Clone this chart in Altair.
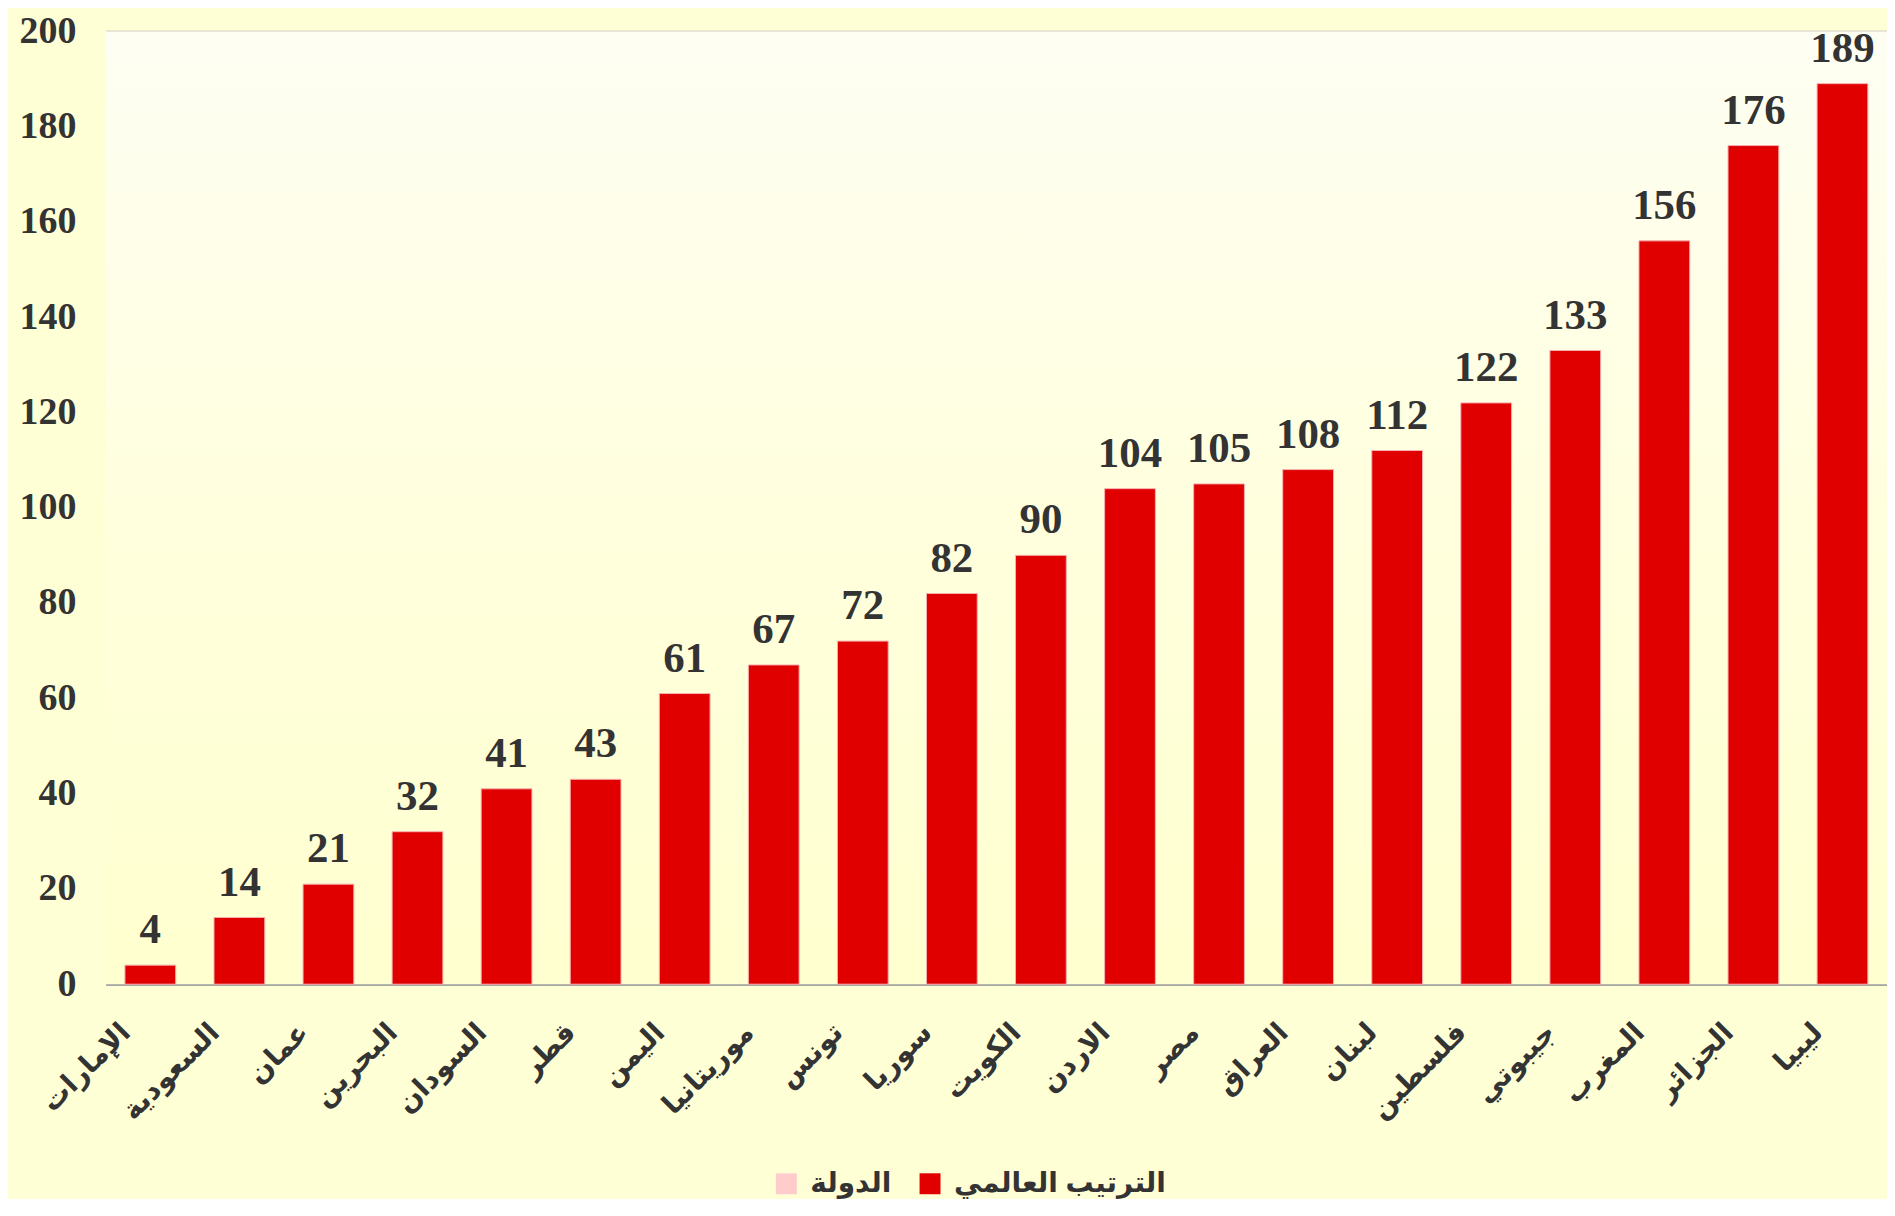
import altair as alt
import pandas as pd

countries = ["الإمارات", "السعودية", "عمان", "البحرين", "السودان", "قطر", "اليمن",
             "موريتانيا", "تونس", "سوريا", "الكويت", "الاردن", "مصر", "العراق",
             "لبنان", "فلسطين", "جيبوتي", "المغرب", "الجزائر", "ليبيا"]
ranks = [4, 14, 21, 32, 41, 43, 61, 67, 72, 82, 90, 104, 105, 108, 112, 122, 133, 156, 176, 189]
series_names = ["الدولة", "الترتيب العالمي"]
series_colors = ["#FFCCCC", "#E00000"]
y_ticks = [0, 20, 40, 60, 80, 100, 120, 140, 160, 180, 200]
y_domain = [0, 200]

df = pd.DataFrame({"country": countries, "rank": ranks, "series": series_names[1]})
bg_df = pd.DataFrame({"top": [y_domain[1]], "bottom": [y_domain[0]]})

x_enc = alt.X("country:N", sort=countries, title=None,
              scale=alt.Scale(paddingInner=0.43, paddingOuter=0.215),
              axis=alt.Axis(labelAngle=-45, labelAlign="right", labelBaseline="top",
                            labelFont="Liberation Serif, DejaVu Sans", labelFontWeight="bold",
                            labelFontSize=28, labelColor="#333333", labelPadding=34,
                            labelOffset=-34, ticks=False, domain=True,
                            domainColor="#A0A0A0", domainWidth=2, grid=False))
y_enc = alt.Y("rank:Q", title=None,
              scale=alt.Scale(domain=y_domain, nice=False),
              axis=alt.Axis(values=y_ticks, labelFont="Liberation Serif", labelFontWeight="bold",
                            labelFontSize=38, labelColor="#333333", labelPadding=30,
                            ticks=False, domain=False, grid=True,
                            gridColor="#A0A0A0", gridWidth=2))

grad = alt.LinearGradient(
    gradient="linear", x1=0, x2=0, y1=0, y2=1,
    stops=[alt.GradientStop(color="#FEFEF3", offset=0),
           alt.GradientStop(color="#FFFFDE", offset=0.5),
           alt.GradientStop(color="#FFFFCF", offset=1)])

background = alt.Chart(bg_df).mark_rect(fill=grad, strokeWidth=0).encode(
    y=alt.Y("top:Q", scale=alt.Scale(domain=y_domain, nice=False), title=None),
    y2=alt.Y2("bottom:Q"),
)

bars = alt.Chart(df).mark_bar(stroke="#F6B0B0", strokeWidth=1).encode(
    x=x_enc,
    y=y_enc,
    color=alt.Color("series:N",
                    scale=alt.Scale(domain=series_names, range=series_colors),
                    legend=alt.Legend(orient="none", legendX=668, legendY=1141,
                                      direction="horizontal", title=None,
                                      symbolType="square", symbolSize=441,
                                      symbolStrokeWidth=0,
                                      labelFont="Liberation Sans, DejaVu Sans",
                                      labelFontWeight="bold", labelFontSize=28,
                                      labelColor="#333333", columnPadding=24,
                                      labelOffset=10, labelLimit=400)),
)

labels = alt.Chart(df).mark_text(baseline="alphabetic", dy=-22, font="Liberation Serif",
                                 fontWeight="bold", fontSize=43, color="#333333").encode(
    x=alt.X("country:N", sort=countries),
    y=alt.Y("rank:Q"),
    text=alt.Text("rank:Q"),
)

chart = alt.layer(background, bars, labels).properties(
    width=1785, height=955,
    background="#FFFFD6",
    padding={"left": 11, "top": 3, "right": 0, "bottom": 0},
).configure_view(stroke=None)

chart.save("out.html", embed_options={"renderer": "svg", "actions": False})
